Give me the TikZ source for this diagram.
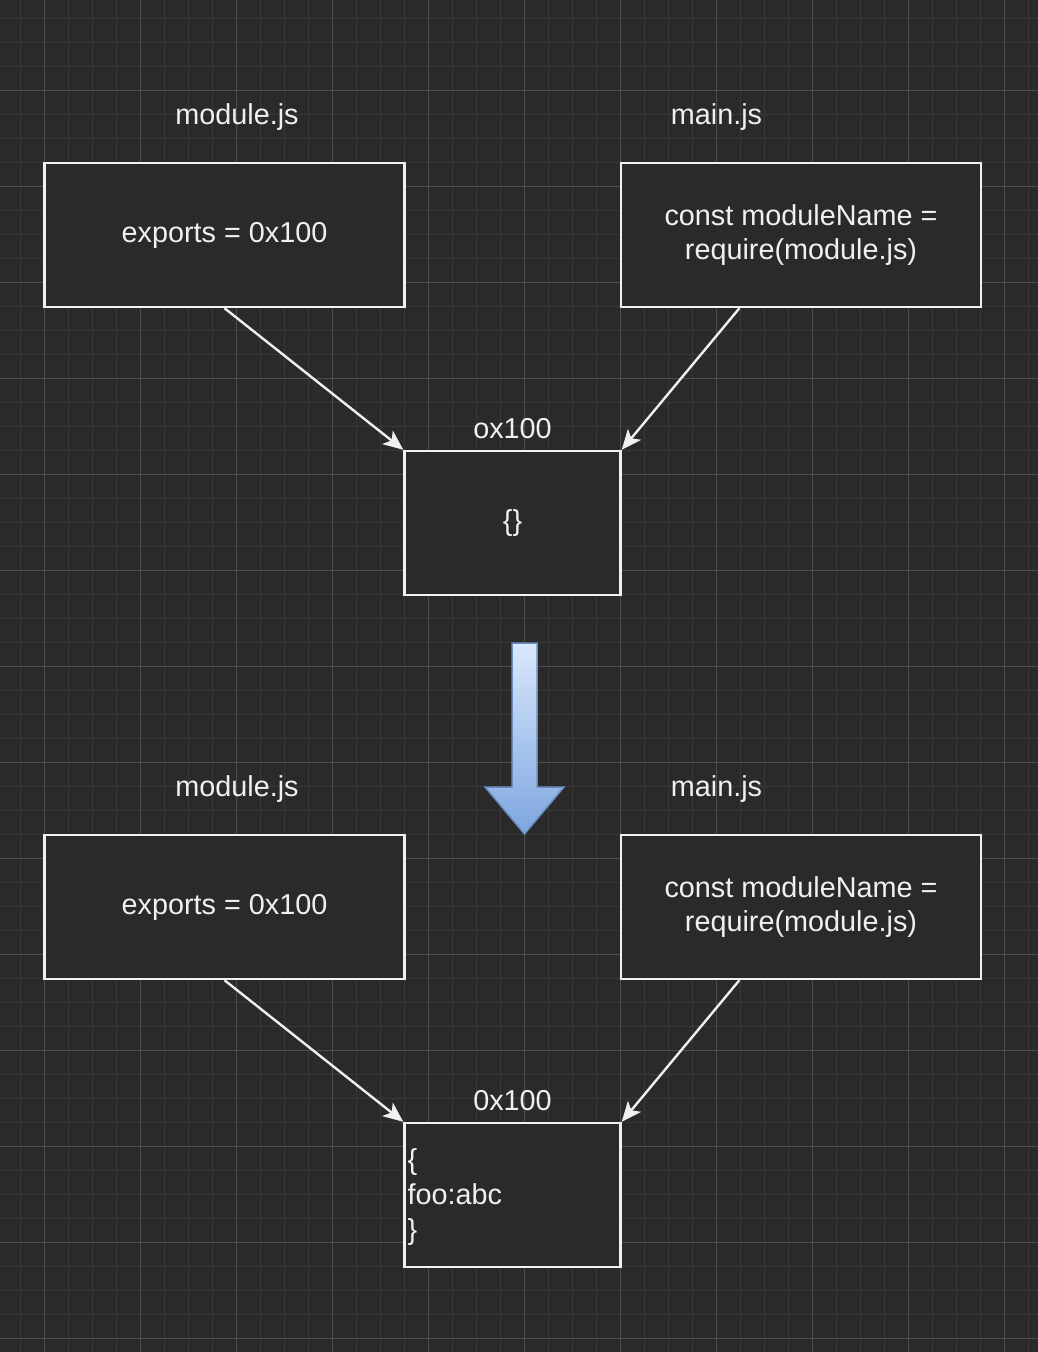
\documentclass[tikz,border=0pt]{standalone}
\usepackage{fontspec}
\setmainfont{Liberation Sans}
\usetikzlibrary{arrows.meta,calc}
\definecolor{bg}{HTML}{2A2A2A}
\definecolor{gridminor}{HTML}{383838}
\definecolor{gridmajor}{HTML}{4E4E4E}
\definecolor{ink}{HTML}{F0F0F0}
\definecolor{blueline}{HTML}{6C8EBF}
\definecolor{bluetop}{HTML}{DAE8FC}
\definecolor{bluebot}{HTML}{7EA6E0}
\begin{document}
\begin{tikzpicture}[x=1pt, y=-1pt, >={Stealth[length=20pt,width=17pt,inset=5pt]},
  font=\fontsize{28.8}{34.6}\selectfont,
  box/.style={draw=ink, line width=2.4pt, fill=bg, text=ink, align=center,
    minimum width=360pt, minimum height=144pt, inner sep=0pt},
  membox/.style={box, minimum width=216pt},
  lbl/.style={text=ink, inner sep=0pt},
  link/.style={draw=ink, line width=2.4pt, ->}]
\useasboundingbox (0,0) rectangle (1038,1352);
\fill[bg] (0,0) rectangle (1038,1352);
% grid
\foreach \i in {0,...,42} \draw[gridminor, line width=1.2pt] ({20.5+24*\i},0) -- ++(0,1352);
\foreach \j in {0,...,55} \draw[gridminor, line width=1.2pt] (0,{18.5+24*\j}) -- ++(1038,0);
\foreach \i in {0,...,10} \draw[gridmajor, line width=1.2pt] ({44.5+96*\i},0) -- ++(0,1352);
\foreach \j in {0,...,13} \draw[gridmajor, line width=1.2pt] (0,{90.5+96*\j}) -- ++(1038,0);

% before
\node[lbl] (modlbl) at (237,117) {module.js};
\node[lbl] (mainlbl) at (716.5,117) {main.js};
\node[box] (modbox) at (224.5,235) {exports = 0x100};
\node[box] (mainbox) at (801,235) {const moduleName =\\require(module.js)};
\node[membox] (obj) at (512.5,523) {\{\}};
\node[lbl] (objlbl) at (512.5,429) {ox100};
\coordinate (maintail) at ($(mainbox.south west)!0.33!(mainbox.south east)$);
\draw[link] (modbox.south) -- (obj.north west);
\draw[link] (maintail) -- (obj.north east);

% step arrow
\shade[top color=bluetop, bottom color=bluebot, draw=blueline, line width=1.5pt]
  (512,643) -- (537,643) -- (537,787) -- (564,787) -- (524.5,834) -- (485,787) -- (512,787) -- cycle;

% after
\node[lbl] (modlbltwo) at (237,789) {module.js};
\node[lbl] (mainlbltwo) at (716.5,789) {main.js};
\node[box] (modboxtwo) at (224.5,907) {exports = 0x100};
\node[box] (mainboxtwo) at (801,907) {const moduleName =\\require(module.js)};
\node[membox] (objtwo) at (512.5,1195) {};
\node[lbl, anchor=west, align=left] (objtext) at ($(objtwo.west)+(4,2)$) {\{\\foo:abc\\\}};
\node[lbl] (objlbltwo) at (512.5,1101) {0x100};
\coordinate (maintailtwo) at ($(mainboxtwo.south west)!0.33!(mainboxtwo.south east)$);
\draw[link] (modboxtwo.south) -- (objtwo.north west);
\draw[link] (maintailtwo) -- (objtwo.north east);
\end{tikzpicture}
\end{document}
